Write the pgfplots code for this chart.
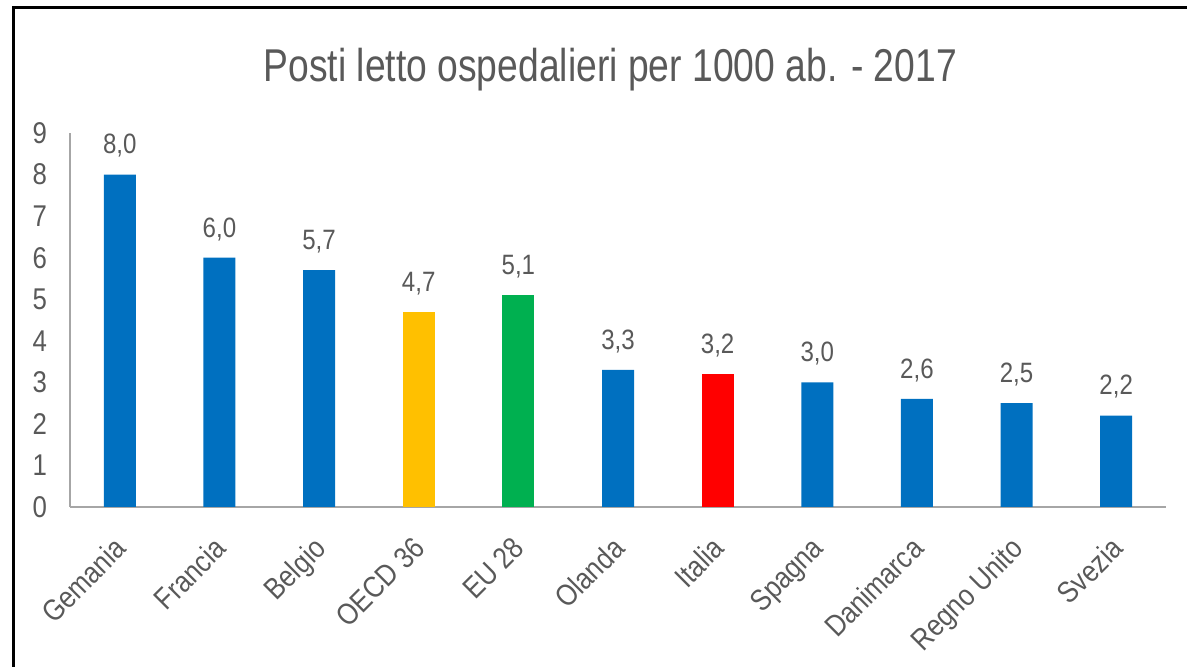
\documentclass[border=0pt]{standalone}
\usepackage{fontspec}
\setmainfont{Liberation Sans}[FakeStretch=0.86]
\newfontfamily\titlefont{Liberation Sans}[FakeStretch=0.81]
\usepackage{pgfplots}
\pgfplotsset{compat=1.18}
\definecolor{barblue}{HTML}{0070C0}
\definecolor{baryellow}{HTML}{FFC000}
\definecolor{bargreen}{HTML}{00B050}
\definecolor{barred}{HTML}{FF0000}
\definecolor{txtgray}{HTML}{595959}
\definecolor{axgray}{HTML}{A6A6A6}
\begin{document}
\begin{tikzpicture}
  % page frame, 1px = 0.5pt, axis box lower left at px (70,507)
  \useasboundingbox (-35pt,-80pt) rectangle (558.5pt,253.5pt);
  \draw[line width=1.5pt] (-28pt,-81pt) -- (-28pt,249.5pt) -- (560pt,249.5pt);
  \begin{axis}[
      at={(0,0)}, anchor=south west,
      scale only axis, width=548pt, height=187pt,
      ybar, bar width=16pt, bar shift=0pt,
      xmin=-0.5, xmax=10.5, ymin=0, ymax=9,
      axis x line=bottom, axis y line=left,
      axis line style={-, draw=axgray, line width=1pt},
      xtick={0,...,10}, ytick={0,...,9},
      xticklabels={Gemania, Francia, Belgio, OECD 36, EU 28, Olanda, Italia, Spagna, Danimarca, Regno Unito, Svezia},
      major tick length=0pt,
      /pgf/number format/assume math mode=true,
      y tick label style={font=\fontsize{15}{17}\selectfont, text=txtgray, xshift=-8pt},
      x tick label style={font=\fontsize{15}{17}\selectfont, text=txtgray,
        rotate=45, anchor=north east, xshift=-9pt, yshift=-4pt},
      nodes near coords,
      nodes near coords style={font=\fontsize{14}{16}\selectfont, text=txtgray, yshift=5pt,
        /pgf/number format/.cd, fixed, fixed zerofill, precision=1, use comma},
      title={Posti letto ospedalieri per 1000 ab. - 2017},
      title style={font=\titlefont\fontsize{23}{26}\selectfont, text=txtgray,
        at={(0.493,1)}, anchor=center, yshift=25.5pt},
    ]
    \addplot[fill=barblue, draw=none] coordinates {(0,8.0) (1,6.0) (2,5.7) (5,3.3) (7,3.0) (8,2.6) (9,2.5) (10,2.2)};
    \addplot[fill=baryellow, draw=none] coordinates {(3,4.7)};
    \addplot[fill=bargreen, draw=none] coordinates {(4,5.1)};
    \addplot[fill=barred, draw=none] coordinates {(6,3.2)};
  \end{axis}
\end{tikzpicture}
\end{document}
